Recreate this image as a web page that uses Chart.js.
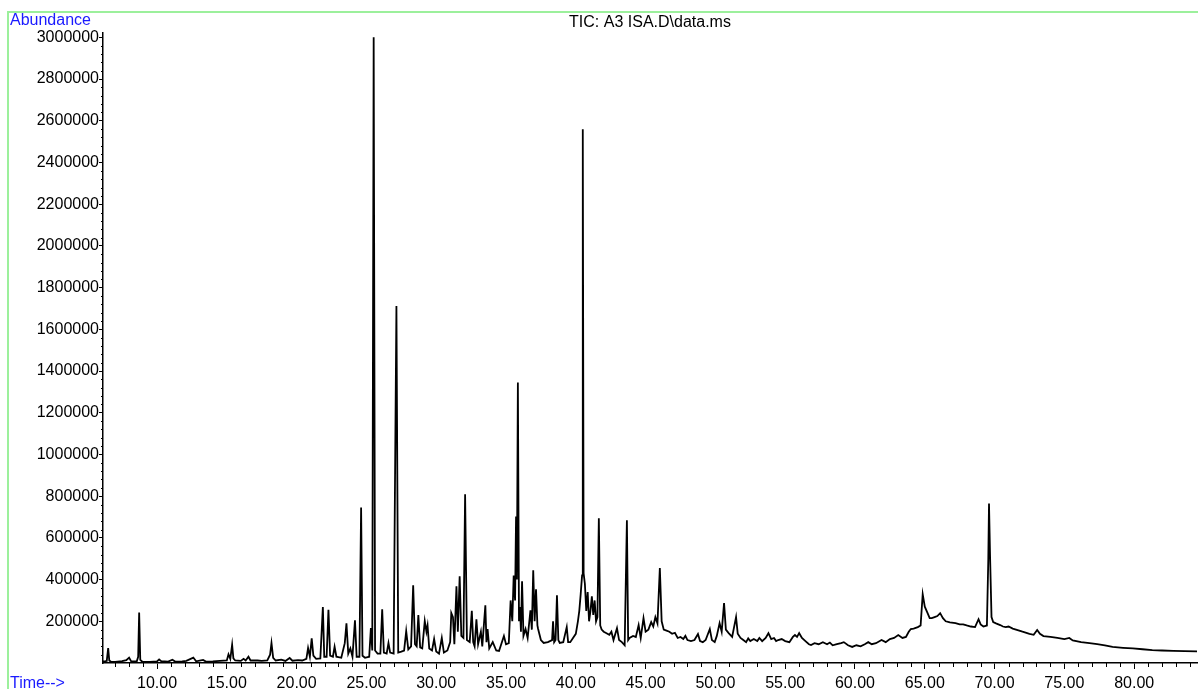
<!DOCTYPE html>
<html>
<head>
<meta charset="utf-8">
<script src="https://cdn.jsdelivr.net/npm/chart.js@4.4.1/dist/chart.umd.min.js"></script>
<style>
  html, body { margin: 0; padding: 0; background: #fff; }
  canvas { display: block; }
</style>
</head>
<body>
<canvas id="tic" width="1198" height="689"></canvas>
<script>
// Retention time (min) and abundance
const times = [
  6.13, 6.3, 6.4, 6.5, 6.58, 6.7, 7.0, 7.5, 7.8, 8.0, 8.15, 8.55, 8.65, 8.72, 8.8, 8.95, 9.5,
  10.0, 10.15, 10.3, 10.8, 11.1, 11.3, 11.8, 12.1, 12.6, 12.8, 13.3, 13.5, 14.0, 14.5,
  15.0, 15.12, 15.25, 15.38, 15.47, 15.6, 16.0, 16.2, 16.35, 16.55, 16.7, 17.2, 17.5, 17.9,
  18.1, 18.2, 18.32, 18.5, 18.9, 19.2, 19.5, 19.7, 20.1, 20.4, 20.7, 20.82, 20.95, 21.08,
  21.2, 21.4, 21.7, 21.88, 21.98, 22.15, 22.28, 22.4, 22.6, 22.72, 22.85, 23.2, 23.45, 23.57,
  23.7, 23.85, 24.0, 24.18, 24.3, 24.5, 24.62, 24.72, 24.9, 25.2, 25.32, 25.42, 25.52, 25.62,
  25.8, 26.0, 26.13, 26.25, 26.45, 26.58, 26.7, 26.95, 27.15, 27.28, 27.5, 27.7, 27.85, 28.0,
  28.2, 28.35, 28.48, 28.6, 28.72, 28.85, 29.0, 29.18, 29.3, 29.38, 29.5, 29.7, 29.85, 30.0,
  30.2, 30.4, 30.55, 30.8, 31.0, 31.08, 31.2, 31.3, 31.45, 31.55, 31.68, 31.8, 31.95, 32.07,
  32.2, 32.4, 32.55, 32.65, 32.75, 32.88, 33.0, 33.2, 33.3, 33.52, 33.6, 33.68, 33.8, 34.05,
  34.3, 34.5, 34.85, 35.0, 35.2, 35.33, 35.45, 35.55, 35.65, 35.72, 35.78, 35.85, 35.93, 36.0,
  36.07, 36.15, 36.25, 36.4, 36.55, 36.75, 36.85, 36.95, 37.05, 37.15, 37.25, 37.3, 37.5, 37.7,
  38.0, 38.3, 38.37, 38.45, 38.55, 38.65, 38.75, 38.85, 39.1, 39.35, 39.45, 39.6, 39.8, 40.0,
  40.15, 40.25, 40.35, 40.45, 40.5, 40.56, 40.65, 40.75, 40.85, 40.95, 41.05, 41.15, 41.25,
  41.35, 41.45, 41.55, 41.65, 41.75, 41.85, 42.0, 42.2, 42.4, 42.55, 42.7, 42.95, 43.1, 43.3, 43.5,
  43.66, 43.75, 43.85, 44.1, 44.3, 44.5, 44.65, 44.85, 45.0, 45.2, 45.4, 45.55, 45.7, 45.85,
  46.02, 46.15, 46.3, 46.5, 46.7, 46.9, 47.1, 47.3, 47.5, 47.7, 47.85, 48.0, 48.25, 48.5, 48.75, 48.9,
  49.1, 49.3, 49.6, 49.75, 49.95, 50.1, 50.3, 50.45, 50.62, 50.75, 50.95, 51.2, 51.48, 51.6,
  51.8, 52.0, 52.2, 52.35, 52.5, 52.75, 53.0, 53.15, 53.35, 53.6, 53.8, 54.0, 54.2, 54.35, 54.5, 54.75, 55.0, 55.3,
  55.55, 55.7, 55.85, 56.0, 56.2, 56.45, 56.7, 56.85, 57.1, 57.4, 57.7, 58.0, 58.2, 58.4, 58.7, 59.0,
  59.2, 59.5, 59.8, 60.1, 60.4, 60.7, 60.95, 61.2, 61.5, 61.9, 62.2, 62.5, 62.8, 63.1, 63.4,
  63.65, 63.85, 64.0, 64.2, 64.5, 64.7, 64.85, 65.0, 65.2, 65.35, 65.5, 65.7, 65.9, 66.1, 66.3,
  66.5, 66.8, 67.2, 67.5, 67.75, 68.0, 68.3, 68.6, 68.85, 69.0, 69.2, 69.45, 69.55, 69.6, 69.68,
  69.78, 69.9, 70.1, 70.4, 70.6, 70.8, 71.0, 71.3, 71.65, 72.0, 72.5, 72.8, 73.05, 73.25, 73.5,
  74.0, 74.5, 75.0, 75.35, 75.6, 76.2, 76.8, 77.35, 77.9, 78.45, 79.2, 79.9, 80.6, 81.3, 82.0,
  82.8, 83.6, 84.5
];
const abundance = [
  8000, 9000, 10000, 72000, 12000, 6000, 5000, 9000, 14000, 26000, 8000, 8000, 30000, 242000, 15000, 6000, 5000,
  8000, 17000, 9000, 7000, 16000, 7000, 8000, 10000, 26000, 8000, 15000, 7000, 8000, 10000,
  12000, 42000, 20000, 88000, 22000, 12000, 10000, 20000, 12000, 30000, 12000, 12000, 10000, 12000,
  40000, 96000, 25000, 12000, 16000, 10000, 24000, 11000, 14000, 12000, 20000, 72000, 30000, 118000,
  35000, 20000, 22000, 268000, 30000, 30000, 255000, 35000, 30000, 78000, 30000, 25000, 95000, 190000,
  45000, 70000, 30000, 205000, 30000, 30000, 746000, 35000, 25000, 30000, 167000, 60000, 3000000, 60000,
  45000, 45000, 258000, 50000, 45000, 96000, 50000, 45000, 1712000, 50000, 55000, 60000, 153000, 65000,
  80000, 373000, 90000, 80000, 230000, 75000, 70000, 201000, 150000, 180000, 70000, 60000, 115000, 55000,
  45000, 120000, 50000, 60000, 100000, 240000, 220000, 90000, 368000, 150000, 416000, 130000, 120000, 809000,
  110000, 100000, 250000, 100000, 80000, 210000, 90000, 150000, 80000, 277000, 100000, 163000, 70000, 100000,
  60000, 58000, 130000, 90000, 95000, 300000, 200000, 420000, 300000, 703000, 400000, 1345000, 200000, 268000,
  150000, 392000, 130000, 163000, 120000, 253000, 160000, 445000, 200000, 354000, 180000, 163000, 110000, 96000,
  100000, 110000, 200000, 100000, 110000, 325000, 110000, 96000, 100000, 172000, 100000, 100000, 120000, 140000,
  200000, 250000, 330000, 420000, 2560000, 430000, 380000, 250000, 340000, 200000, 250000, 320000, 230000,
  300000, 200000, 220000, 694000, 180000, 160000, 150000, 143000, 135000, 150000, 110000, 167000, 110000, 100000, 85000,
  685000, 110000, 120000, 130000, 125000, 182000, 120000, 215000, 150000, 160000, 196000, 175000, 220000, 190000,
  455000, 200000, 160000, 155000, 150000, 140000, 145000, 120000, 125000, 115000, 130000, 110000, 105000, 110000, 139000, 105000,
  100000, 110000, 163000, 110000, 100000, 130000, 191000, 150000, 287000, 160000, 143000, 125000, 220000, 140000,
  120000, 110000, 100000, 118000, 105000, 115000, 105000, 120000, 105000, 120000, 143000, 115000, 120000, 105000, 110000, 115000, 105000, 100000,
  125000, 134000, 125000, 143000, 120000, 105000, 90000, 86000, 95000, 90000, 100000, 90000, 98000, 85000, 90000, 95000,
  100000, 85000, 77000, 85000, 80000, 90000, 100000, 90000, 95000, 110000, 100000, 115000, 120000, 134000, 120000,
  125000, 150000, 163000, 165000, 172000, 180000, 330000, 270000, 239000, 215000, 215000, 220000, 225000, 239000, 215000,
  200000, 195000, 191000, 185000, 185000, 180000, 175000, 172000, 210000, 185000, 175000, 180000, 500000, 765000, 500000,
  220000, 196000, 190000, 182000, 175000, 172000, 175000, 165000, 158000, 150000, 140000, 135000, 158000, 140000, 129000,
  125000, 120000, 115000, 120000, 108000, 100000, 95000, 91000, 85000, 77000, 73000, 70000, 66000, 62000, 60000,
  58000, 57000, 56000
];

// Axis ticks: majors labelled, minors unlabelled
const timeTicks = [];
for (let t = 7; t <= 84; t++) timeTicks.push(t);
const abundanceTicks = [];
for (let a = 0; a <= 3000000; a += 40000) abundanceTicks.push(a);

const FONT = "'Liberation Sans', Arial, sans-serif";
const isTimeMajor = v => v % 5 === 0;
const isAbundanceMajor = v => v % 200000 === 0;

// Frame, side labels and the short minor tick marks
const chemstationDecor = {
  id: "chemstationDecor",
  afterDraw(chart) {
    const { ctx, chartArea } = chart;
    const xs = chart.scales.x;
    const ys = chart.scales.y;
    ctx.save();

    ctx.strokeStyle = "#000";
    ctx.lineWidth = 1;
    ctx.beginPath();
    timeTicks.filter(v => !isTimeMajor(v)).forEach(v => {
      const px = Math.round(xs.getPixelForValue(v)) + 0.5;
      ctx.moveTo(px, chartArea.bottom);
      ctx.lineTo(px, chartArea.bottom + 4);
    });
    abundanceTicks.filter(v => !isAbundanceMajor(v)).forEach(v => {
      const py = Math.round(ys.getPixelForValue(v)) + 0.5;
      ctx.moveTo(chartArea.left - 2, py);
      ctx.lineTo(chartArea.left, py);
    });
    ctx.stroke();

    ctx.strokeStyle = "#9cf09c";
    ctx.lineWidth = 2;
    ctx.beginPath();
    ctx.moveTo(8, chart.height);
    ctx.lineTo(8, 12);
    ctx.lineTo(chart.width, 12);
    ctx.stroke();

    ctx.fillStyle = "#1a1aff";
    ctx.font = "16px " + FONT;
    ctx.textAlign = "left";
    ctx.textBaseline = "middle";
    ctx.fillText("Abundance", 10, 21);
    ctx.fillText("Time-->", 10, 684);
    ctx.restore();
  }
};

const ctx = document.getElementById("tic").getContext("2d");
new Chart(ctx, {
  type: "line",
  data: {
    datasets: [{
      label: "TIC",
      data: times.map((t, i) => ({ x: t, y: abundance[i] })),
      borderColor: "#000",
      borderWidth: 1.8,
      pointRadius: 0,
      tension: 0,
      fill: false
    }]
  },
  options: {
    responsive: false,
    animation: false,
    layout: { padding: { left: 0, right: 1, top: 0, bottom: 0 } },
    plugins: {
      legend: { display: false },
      tooltip: { enabled: false },
      title: {
        display: true,
        text: "TIC: A3 ISA.D\\data.ms",
        fullSize: false,
        align: "center",
        color: "#000",
        font: { family: FONT, size: 16, weight: "normal", lineHeight: 1.2 },
        padding: { top: 13, bottom: 1 }
      }
    },
    scales: {
      x: {
        type: "linear",
        min: 6.13,
        max: 84.5,
        afterBuildTicks: scale => { scale.ticks = timeTicks.map(v => ({ value: v })); },
        afterFit: scale => { scale.height = 26; },
        border: { display: true, color: "#000", width: 1.5 },
        grid: {
          drawOnChartArea: false,
          drawTicks: true,
          tickLength: 6,
          tickWidth: 1,
          tickColor: c => (c.tick && isTimeMajor(c.tick.value)) ? "#000" : "rgba(0,0,0,0)"
        },
        ticks: {
          autoSkip: false,
          maxRotation: 0,
          padding: 5,
          color: "#000",
          font: { family: FONT, size: 16 },
          callback: v => isTimeMajor(v) ? v.toFixed(2) : ""
        }
      },
      y: {
        type: "linear",
        min: 0,
        max: 3020000,
        afterBuildTicks: scale => { scale.ticks = abundanceTicks.map(v => ({ value: v })); },
        afterFit: scale => { scale.width = 103; },
        border: { display: true, color: "#000", width: 1.5 },
        grid: {
          drawOnChartArea: false,
          drawTicks: true,
          tickLength: 4,
          tickWidth: 1,
          tickColor: c => (c.tick && isAbundanceMajor(c.tick.value) && c.tick.value > 0) ? "#000" : "rgba(0,0,0,0)"
        },
        ticks: {
          autoSkip: false,
          padding: 0,
          color: "#000",
          font: { family: FONT, size: 16 },
          callback: v => (isAbundanceMajor(v) && v > 0) ? String(v) : ""
        }
      }
    }
  },
  plugins: [chemstationDecor]
});
</script>
</body>
</html>
